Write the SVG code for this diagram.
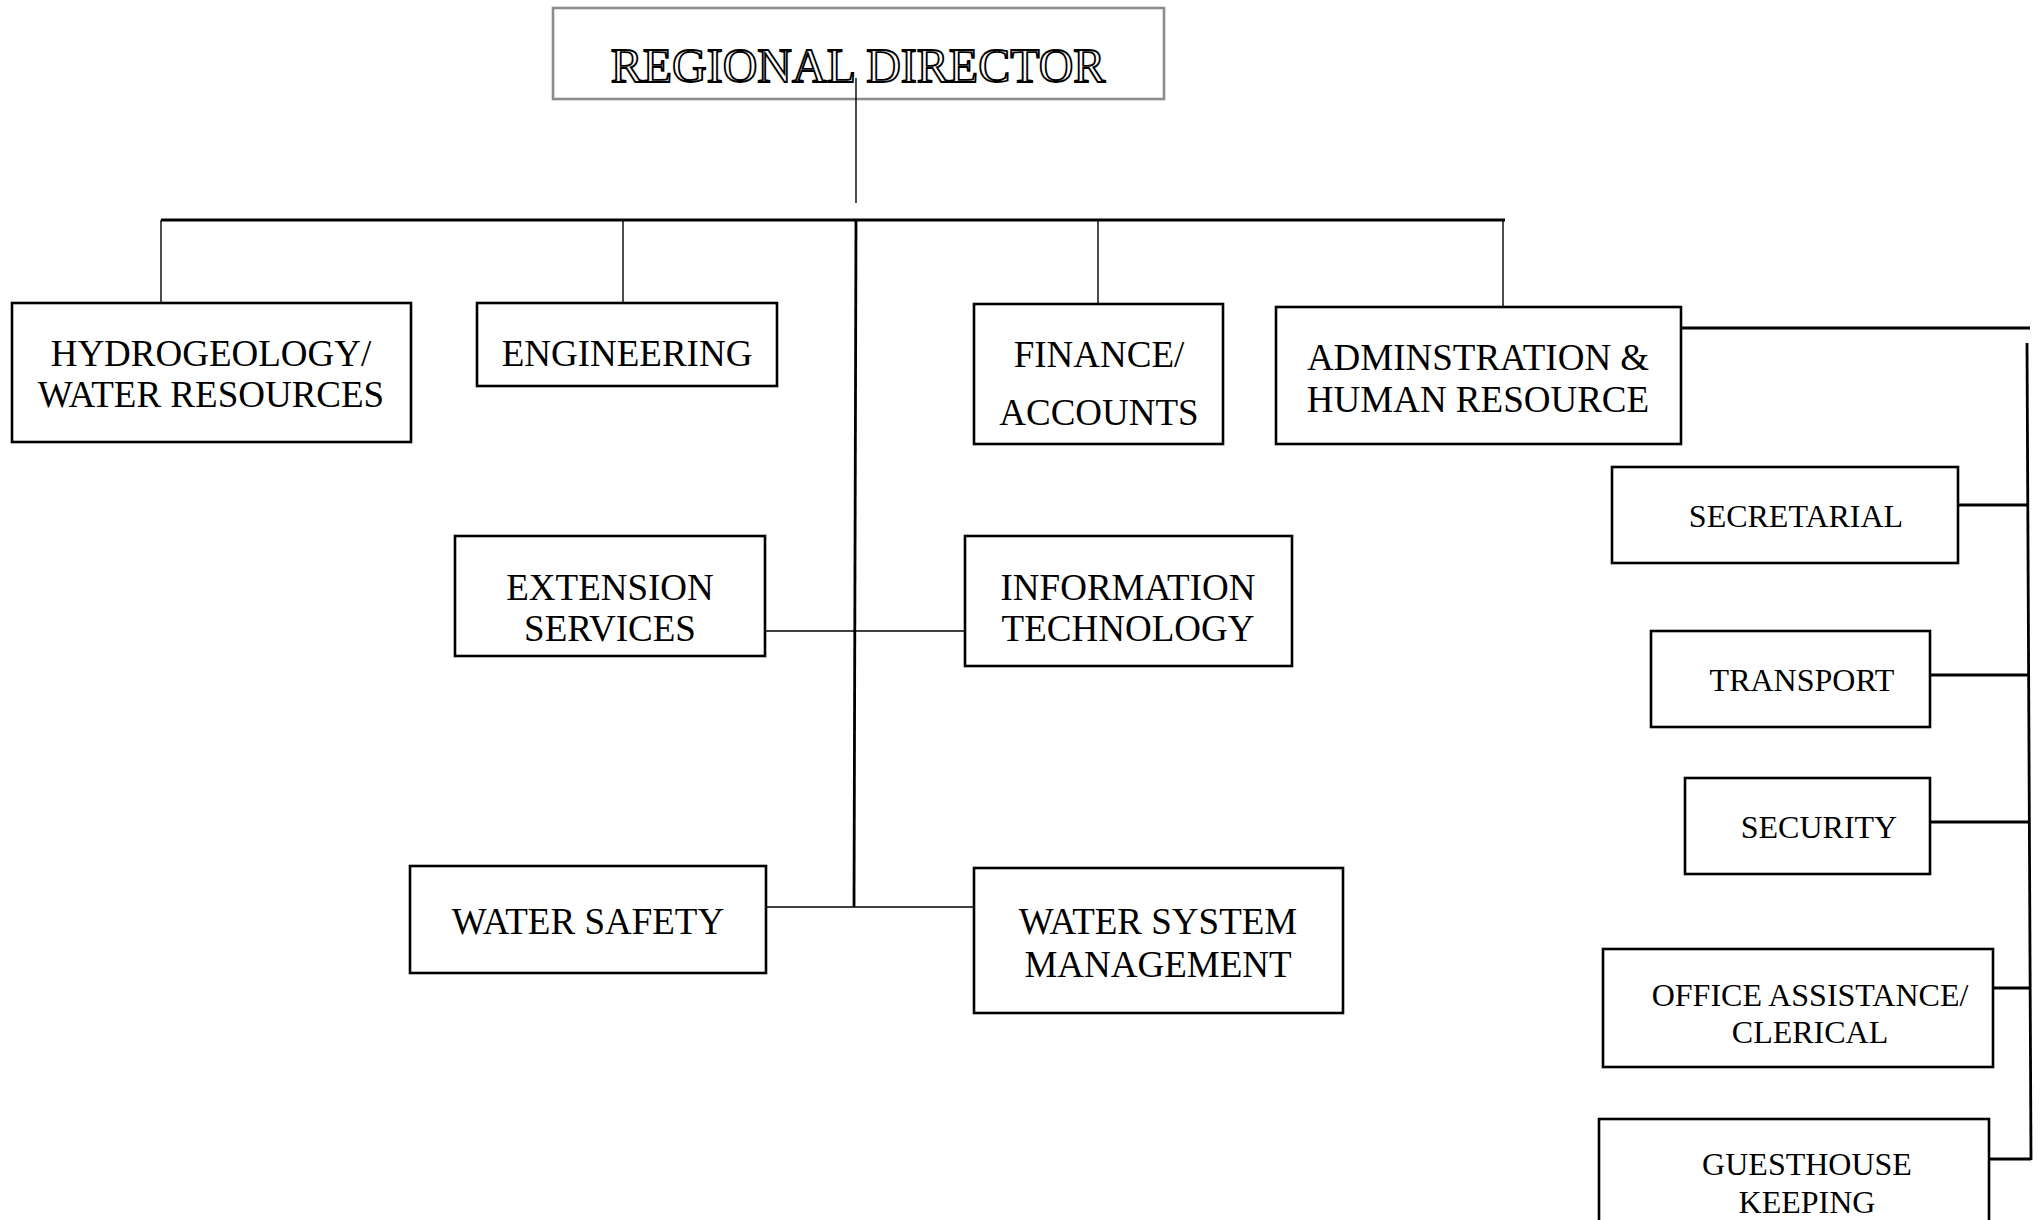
<svg xmlns="http://www.w3.org/2000/svg" width="2040" height="1220" viewBox="0 0 2040 1220">
<style>
.box{fill:#fff;stroke:#000;stroke-width:2.6}
.top{fill:#fff;stroke:#8c8c8c;stroke-width:2.6}
.t{font-family:"Liberation Serif","Times New Roman",serif;font-size:37px;fill:#000;text-anchor:middle}
.s{font-family:"Liberation Serif","Times New Roman",serif;font-size:32px;fill:#000;text-anchor:middle}
.title{font-family:"Liberation Serif","Times New Roman",serif;font-size:48px;fill:#fff;stroke:#000;stroke-width:1.8;text-anchor:middle}
.thin{stroke:#000;stroke-width:1.4;fill:none}
.thick{stroke:#000;stroke-width:2.8;fill:none}
</style>
<rect width="2040" height="1220" fill="#fff"/>
<g id="director">
<rect class="top" x="553" y="8" width="611" height="91"/>
<text class="title" x="858" y="82">REGIONAL DIRECTOR</text>
</g>
<g id="connectors">
<line class="thin" x1="856" y1="78" x2="856" y2="203"/>
<line class="thick" x1="161" y1="220" x2="1505" y2="220"/>
<line class="thick" x1="856" y1="220" x2="854" y2="907"/>
<line class="thin" x1="161" y1="220" x2="161" y2="315"/>
<line class="thin" x1="623" y1="220" x2="623" y2="314"/>
<line class="thin" x1="1098" y1="220" x2="1098" y2="317"/>
<line class="thin" x1="1503" y1="220" x2="1503" y2="320"/>
<line class="thin" x1="765" y1="631" x2="965" y2="631"/>
<line class="thin" x1="766" y1="907" x2="974" y2="907"/>
<line class="thick" x1="1681" y1="328" x2="2030" y2="328"/>
<line class="thick" x1="2027" y1="343" x2="2031" y2="1160"/>
<line class="thick" x1="1958" y1="505" x2="2027" y2="505"/>
<line class="thick" x1="1930" y1="675" x2="2028" y2="675"/>
<line class="thick" x1="1930" y1="822" x2="2029" y2="822"/>
<line class="thick" x1="1993" y1="988" x2="2030" y2="988"/>
<line class="thick" x1="1989" y1="1159" x2="2031" y2="1159"/>
</g>
<g id="hydrogeology">
<rect class="box" x="12" y="303" width="399" height="139"/>
<text class="t" x="211" y="366">HYDROGEOLOGY/</text>
<text class="t" x="211" y="407">WATER RESOURCES</text>
</g>
<g id="engineering">
<rect class="box" x="477" y="303" width="300" height="83"/>
<text class="t" x="627" y="366">ENGINEERING</text>
</g>
<g id="finance">
<rect class="box" x="974" y="304" width="249" height="140"/>
<text class="t" x="1099" y="367">FINANCE/</text>
<text class="t" x="1099" y="425">ACCOUNTS</text>
</g>
<g id="administration">
<rect class="box" x="1276" y="307" width="405" height="137"/>
<text class="t" x="1478" y="370">ADMINSTRATION &amp;</text>
<text class="t" x="1478" y="412">HUMAN RESOURCE</text>
</g>
<g id="extension">
<rect class="box" x="455" y="536" width="310" height="120"/>
<text class="t" x="610" y="600">EXTENSION</text>
<text class="t" x="610" y="641">SERVICES</text>
</g>
<g id="it">
<rect class="box" x="965" y="536" width="327" height="130"/>
<text class="t" x="1128" y="600">INFORMATION</text>
<text class="t" x="1128" y="641">TECHNOLOGY</text>
</g>
<g id="water-safety">
<rect class="box" x="410" y="866" width="356" height="107"/>
<text class="t" x="588" y="934">WATER SAFETY</text>
</g>
<g id="water-system">
<rect class="box" x="974" y="868" width="369" height="145"/>
<text class="t" x="1158" y="934">WATER SYSTEM</text>
<text class="t" x="1158" y="977">MANAGEMENT</text>
</g>
<g id="secretarial">
<rect class="box" x="1612" y="467" width="346" height="96"/>
<text class="s" x="1796" y="527">SECRETARIAL</text>
</g>
<g id="transport">
<rect class="box" x="1651" y="631" width="279" height="96"/>
<text class="s" x="1802" y="691">TRANSPORT</text>
</g>
<g id="security">
<rect class="box" x="1685" y="778" width="245" height="96"/>
<text class="s" x="1819" y="838">SECURITY</text>
</g>
<g id="office">
<rect class="box" x="1603" y="949" width="390" height="118"/>
<text class="s" x="1810" y="1006">OFFICE ASSISTANCE/</text>
<text class="s" x="1810" y="1043">CLERICAL</text>
</g>
<g id="guesthouse">
<rect class="box" x="1599" y="1119" width="390" height="130"/>
<text class="s" x="1807" y="1175">GUESTHOUSE</text>
<text class="s" x="1807" y="1213">KEEPING</text>
</g>
</svg>
